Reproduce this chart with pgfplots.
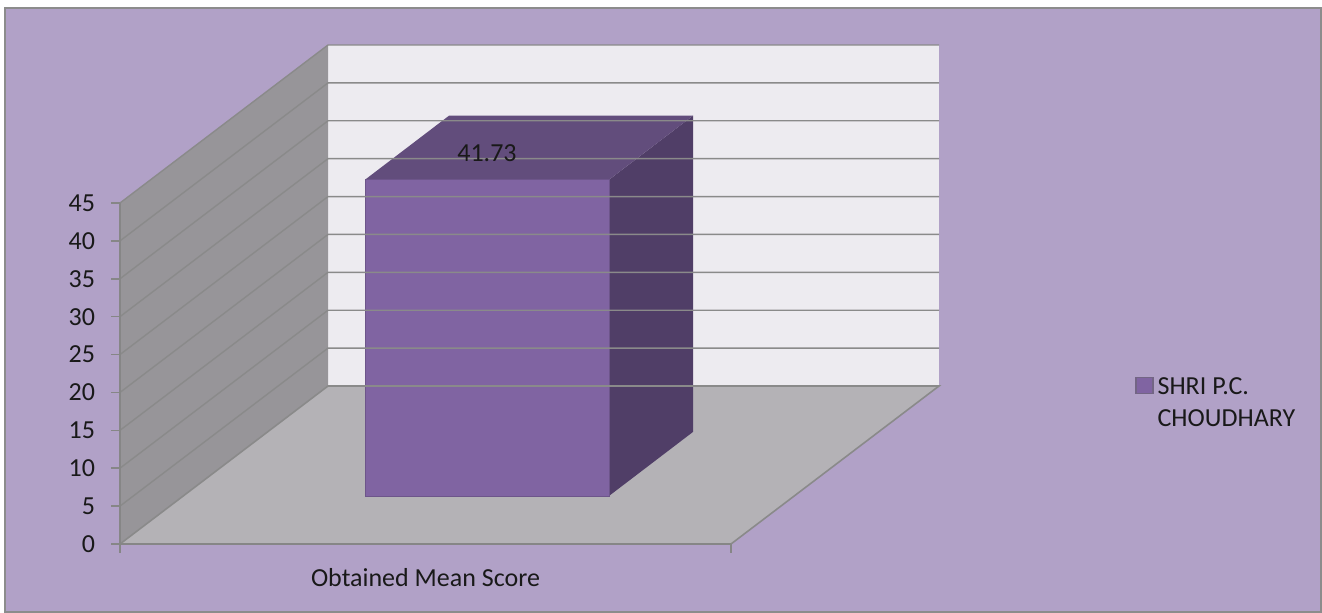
\documentclass[border=0pt]{standalone}
\usepackage{fontspec}
\setmainfont{Carlito}
\usepackage{pgfplots}
\usepackage{pgfplotstable}
\pgfplotsset{compat=1.18}
\definecolor{bgpurple}{RGB}{177,161,199}
\definecolor{wallback}{RGB}{237,235,240}
\definecolor{wallside}{RGB}{151,149,153}
\definecolor{floorc}{RGB}{180,178,182}
\definecolor{gridc}{RGB}{138,138,138}
\definecolor{barfront}{RGB}{128,100,162}
\definecolor{bartop}{RGB}{98,77,124}
\definecolor{barside}{RGB}{80,62,103}
\definecolor{bordc}{RGB}{140,140,140}
\definecolor{axisc}{RGB}{134,134,134}

% bar value
\pgfplotstableread{
x v
487 41.73
}\bardata
% depth offset of the bar's front face (3-D projection, value units)
\pgfplotstableread{
x v
487 6.34
}\barbase

\begin{document}
\fontsize{13}{16}\selectfont
\begin{tikzpicture}
% chart area background and 3-D walls (1 px = 0.5pt; axis box south west at (60pt,0pt))
\fill[white] (0pt,-34.5pt) rectangle (661pt,272.0pt);
\filldraw[fill=bgpurple, draw=bordc, line width=1pt] (2.5pt,-33.8pt) rectangle (660.5pt,268.0pt);
\fill[wallback] (164pt,79pt) rectangle (469.5pt,249.5pt);
\fill[wallside] (60pt,0pt) -- (60pt,170.5pt) -- (164pt,249.5pt) -- (164pt,79pt) -- cycle;
\fill[floorc] (60pt,0pt) -- (365.5pt,0pt) -- (469.5pt,79pt) -- (164pt,79pt) -- cycle;
\pgfplotstablegetelem{0}{v}\of\bardata
\let\barval\pgfplotsretval
\pgfmathsetmacro{\bartop}{6.34+\barval}
\pgfmathsetmacro{\bartopback}{\bartop+8.45}
\pgfmathsetmacro{\labely}{\bartop+3.46}
\begin{axis}[
  at={(60pt,0pt)}, anchor=south west,
  axis on top,
  scale only axis, width=305.5pt, height=170.5pt,
  xmin=120, xmax=731, ymin=0, ymax=45,
  clip=false,
  axis lines*=left,
  axis line style={axisc, line width=0.8pt},
  tick style={axisc, line width=0.8pt},
  tick align=outside,
  major tick length=4.5pt,
  xtick={120,731}, xticklabels={},
  ytick={0,5,...,45},
  yticklabel style={text=black!90, xshift=-3.5pt},
  /pgf/number format/assume math mode=true,
  ybar stacked, bar width=244,
  legend style={draw=none, fill=none, at={(axis cs:1129,23.1)}, anchor=north west,
    cells={align=left, anchor=west}, text=black!90},
  legend image code/.code={\draw[fill=barfront, draw=barside!80, line width=0.6pt] (0pt,5.05pt) rectangle (8.5pt,13.25pt);},
]
\draw[gridc, line width=0.8pt] (axis cs:731,0) -- (axis cs:939,20.85) -- (axis cs:328,20.85) -- (axis cs:120,0);
% gridlines
\pgfplotsinvokeforeach{5,10,...,45}{
  \draw[gridc, line width=0.7pt] (axis cs:120,#1) -- (axis cs:328,#1+20.85) -- (axis cs:939,#1+20.85);
}
% bar: invisible base for depth, then the value
\addplot[draw=none, fill=none, forget plot] table[x=x, y=v] {\barbase};
\addplot[fill=barfront, draw=barfront!85!black, line width=0.4pt]
  table[x=x, y=v] {\bardata};
\addlegendentry{SHRI P.C.\\CHOUDHARY}
% 3-D faces of the bar from its value
\fill[bartop] (axis cs:365,\bartop) -- (axis cs:609,\bartop) -- (axis cs:693,\bartopback) -- (axis cs:449,\bartopback) -- cycle;
\fill[barside] (axis cs:609,6.34) -- (axis cs:693,14.79) -- (axis cs:693,\bartopback) -- (axis cs:609,\bartop) -- cycle;
% data label position
\coordinate (lbl) at (axis cs:487,\labely);
% category label
\node[anchor=base, text=black!90] at (axis cs:425.5,-5.67) {Obtained Mean Score};
\end{axis}
\node[text=black!90] at (lbl) {\pgfmathprintnumber[fixed,precision=2,assume math mode=true]{\barval}};
\end{tikzpicture}
\end{document}
